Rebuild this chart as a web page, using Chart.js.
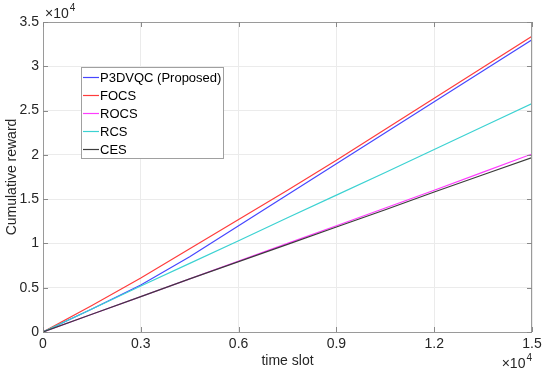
<!DOCTYPE html>
<html>
<head>
<meta charset="utf-8">
<script src="https://cdn.jsdelivr.net/npm/chart.js@4"></script>
<style>
  html, body { margin: 0; padding: 0; background: #fff; }
  #wrap { width: 550px; height: 381px; }
</style>
</head>
<body>
<div id="wrap"><canvas id="rewardChart" width="550" height="381"></canvas></div>
<script>
// time slots (real units) and cumulative reward (units of 10^4)
const timeSlots = [0, 1500, 3000, 4500, 6000, 7500, 9000, 10500, 12000, 13500, 15000];
const p3dvqc = [0, 0.26, 0.53, 0.85, 1.20, 1.55, 1.90, 2.25, 2.60, 2.95, 3.30];
const focs   = [0, 0.30, 0.61, 0.94, 1.27, 1.60, 1.94, 2.29, 2.64, 2.99, 3.34];
const rocs   = [0, 0.20, 0.40, 0.60, 0.80, 1.00, 1.20, 1.40, 1.60, 1.805, 2.01];
const rcs    = [0, 0.26, 0.52, 0.775, 1.03, 1.29, 1.545, 1.80, 2.06, 2.32, 2.58];
const ces    = [0, 0.20, 0.40, 0.60, 0.795, 0.99, 1.185, 1.38, 1.58, 1.775, 1.97];

const seriesNames = ['P3DVQC (Proposed)', 'FOCS', 'ROCS', 'RCS', 'CES'];
const seriesColors = ['rgb(70,70,255)', 'rgb(255,60,60)', 'rgb(255,60,255)', 'rgb(60,210,210)', 'rgb(60,60,60)'];
const seriesValues = [p3dvqc, focs, rocs, rcs, ces];

const xTickLabels = ['0', '0.3', '0.6', '0.9', '1.2', '1.5'];
const yTickLabels = ['0', '0.5', '1', '1.5', '2', '2.5', '3', '3.5'];

const FONT = 'Arial, "Liberation Sans", sans-serif';

const datasets = seriesValues.map((vals, i) => ({
    label: seriesNames[i],
    data: vals.map((v, j) => ({ x: timeSlots[j], y: v })),
    borderColor: seriesColors[i],
    backgroundColor: seriesColors[i],
    borderWidth: 1.2,
    pointRadius: 0,
    tension: 0,
    order: seriesValues.length - i
}));

// frame, inner tick marks, exponents and legend like the matlab figure
const matlabLook = {
    id: 'matlabLook',
    afterDatasetsDraw(chart) {
        const { ctx, chartArea: a, scales } = chart;
        ctx.save();

        // box
        ctx.strokeStyle = '#9a9a9a';
        ctx.lineWidth = 1;
        ctx.strokeRect(a.left + 0.5, a.top + 0.5, a.right - a.left - 1, a.bottom - a.top);

        // tick marks pointing inwards
        ctx.strokeStyle = '#8a8a8a';
        ctx.beginPath();
        scales.x.ticks.forEach(t => {
            const px = Math.round(scales.x.getPixelForValue(t.value)) + 0.5;
            ctx.moveTo(px, a.bottom); ctx.lineTo(px, a.bottom - 5);
            ctx.moveTo(px, a.top); ctx.lineTo(px, a.top + 5);
        });
        scales.y.ticks.forEach(t => {
            const py = Math.round(scales.y.getPixelForValue(t.value)) + 0.5;
            ctx.moveTo(a.left, py); ctx.lineTo(a.left + 5, py);
            ctx.moveTo(a.right, py); ctx.lineTo(a.right - 5, py);
        });
        ctx.stroke();

        // exponent labels
        ctx.fillStyle = '#262626';
        ctx.textBaseline = 'alphabetic';
        ctx.textAlign = 'left';
        const drawExp = (x, y, alignRight) => {
            ctx.font = '14px ' + FONT;
            const w = ctx.measureText('\u00d710').width;
            ctx.font = '10px ' + FONT;
            const w4 = ctx.measureText('4').width;
            const x0 = alignRight ? x - w - w4 - 1 : x;
            ctx.font = '14px ' + FONT;
            ctx.fillText('\u00d710', x0, y);
            ctx.font = '10px ' + FONT;
            ctx.fillText('4', x0 + w + 1, y - 7);
        };
        drawExp(a.left + 2, a.top - 4, false);
        drawExp(a.right, a.bottom + 36, true);

        // legend box
        const lx = 81, ly = 67, lw = 142, lh = 91;
        ctx.fillStyle = '#fff';
        ctx.fillRect(lx, ly, lw, lh);
        ctx.strokeStyle = '#a0a0a0';
        ctx.strokeRect(lx + 0.5, ly + 0.5, lw, lh);
        ctx.font = '13px ' + FONT;
        ctx.textBaseline = 'middle';
        seriesNames.forEach((name, i) => {
            const cy = ly + 10 + i * 18;
            ctx.strokeStyle = seriesColors[i];
            ctx.lineWidth = 1.2;
            ctx.beginPath();
            ctx.moveTo(lx + 2, cy + 0.5);
            ctx.lineTo(lx + 18, cy + 0.5);
            ctx.stroke();
            ctx.fillStyle = '#000';
            ctx.fillText(name, lx + 19, cy + 1);
        });
        ctx.restore();
    }
};

new Chart(document.getElementById('rewardChart'), {
    type: 'line',
    data: { datasets: datasets },
    options: {
        responsive: false,
        animation: false,
        devicePixelRatio: 1,
        layout: { padding: { top: 22, right: 18, left: 0, bottom: 0 } },
        plugins: { legend: { display: false }, tooltip: { enabled: false } },
        scales: {
            x: {
                type: 'linear', min: 0, max: 15000,
                afterFit: s => { s.height = 49; },
                ticks: {
                    stepSize: 3000, padding: 4, color: '#262626',
                    font: { family: FONT, size: 14 },
                    maxRotation: 0,
                    callback: (v, i) => xTickLabels[i]
                },
                grid: { color: '#ebebeb', drawTicks: false },
                border: { display: false },
                title: {
                    display: true, text: 'time slot', color: '#262626',
                    font: { family: FONT, size: 14 },
                    padding: { top: 0, bottom: 11 }
                }
            },
            y: {
                min: 0, max: 3.5,
                afterFit: s => { s.width = 43; },
                ticks: {
                    stepSize: 0.5, padding: 4, color: '#262626',
                    font: { family: FONT, size: 14 },
                    callback: (v, i) => yTickLabels[i]
                },
                grid: { color: '#ebebeb', drawTicks: false },
                border: { display: false },
                title: {
                    display: true, text: 'Cumulative reward', color: '#262626',
                    font: { family: FONT, size: 14 },
                    padding: { top: 4, bottom: 0 }
                }
            }
        }
    },
    plugins: [matlabLook]
});
</script>
</body>
</html>
